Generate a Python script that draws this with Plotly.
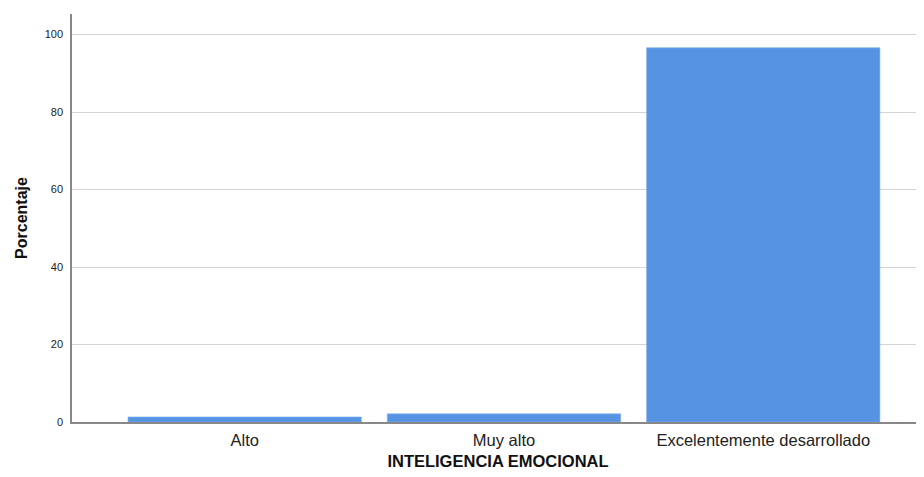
import plotly.graph_objects as go

categories = ["Alto", "Muy alto", "Excelentemente desarrollado"]
percentages = [1.3, 2.1, 96.6]
y_ticks = [0, 20, 40, 60, 80, 100]

fig = go.Figure(
    go.Bar(
        x=list(range(len(categories))),
        y=percentages,
        width=0.9,
        marker=dict(color="#5694e3", line=dict(color="#7fb0ee", width=0.6)),
    )
)

# page body has an 8px margin; size the figure so it ends at the window edge
fig.update_layout(
    width=916,
    height=469,
    margin=dict(l=64, r=0, t=6, b=54.5),
    paper_bgcolor="white",
    plot_bgcolor="white",
    showlegend=False,
    font=dict(family="Liberation Sans, Arial, sans-serif", color="#222222"),
)

fig.update_xaxes(
    range=[-0.666, 2.62],
    tickmode="array",
    tickvals=list(range(len(categories))),
    ticktext=categories,
    tickfont=dict(size=16.5, color="#222222"),
    showgrid=False,
    showline=True,
    linecolor="#888888",
    linewidth=1.5,
    ticks="",
    ticklabelstandoff=2,
    title=dict(text="<b>INTELIGENCIA EMOCIONAL</b>", font=dict(size=16.5, color="#111111"), standoff=8),
    zeroline=False,
)

fig.update_yaxes(
    range=[0, 105.3],
    tickmode="array",
    tickvals=y_ticks,
    tickfont=dict(size=11, color="#222222"),
    showgrid=True,
    gridcolor="#d4d4d4",
    gridwidth=1.3,
    showline=True,
    linecolor="#888888",
    linewidth=1.5,
    ticks="",
    ticklabelstandoff=5,
    title=dict(text="<b>Porcentaje</b>", font=dict(size=16, color="#111111"), standoff=13),
    zeroline=False,
)

fig.write_html("out.html")
